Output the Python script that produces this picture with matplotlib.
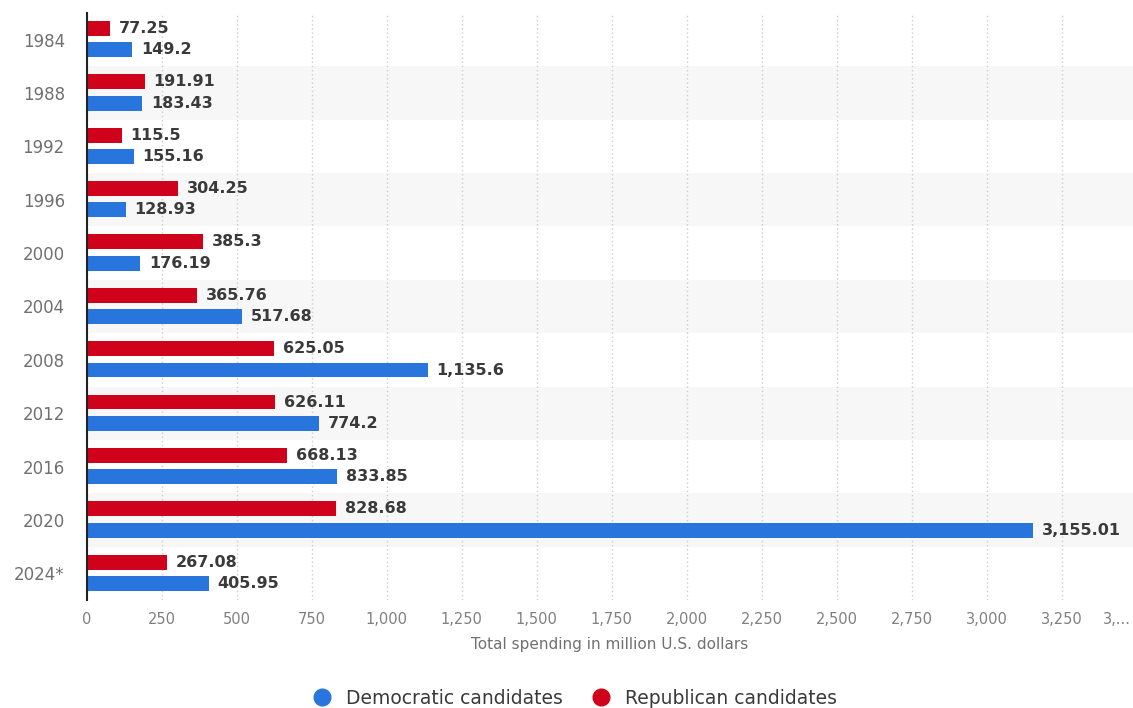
import matplotlib.pyplot as plt
import matplotlib.transforms as mtransforms
from matplotlib.lines import Line2D
import numpy as np

plt.rcParams['font.family'] = ['DejaVu Sans']

# Datos
years = ['1984', '1988', '1992', '1996', '2000', '2004', '2008', '2012', '2016', '2020', '2024*']
republican = [77.25, 191.91, 115.5, 304.25, 385.3, 365.76, 625.05, 626.11, 668.13, 828.68, 267.08]
democratic = [149.2, 183.43, 155.16, 128.93, 176.19, 517.68, 1135.6, 774.2, 833.85, 3155.01, 405.95]
x_ticks = [0, 250, 500, 750, 1000, 1250, 1500, 1750, 2000, 2250, 2500, 2750, 3000, 3250]

RED = '#d0021b'
BLUE = '#2876dd'
TXT = '#3a3a3a'
TICK = '#808080'

fig = plt.figure(figsize=(11.33, 7.08), dpi=100)
W, H = 1133, 708
ax = fig.add_axes([87 / W, 1 - 600 / H, (W - 87) / W, (600 - 13) / H])

y = np.arange(len(years))
h = 0.28

# bandas alternas de fondo
for i in y:
    if i % 2 == 1:
        ax.axhspan(i - 0.5, i + 0.5, color='#f7f7f7', zorder=0, lw=0)

ax.barh(y - 0.21, republican, height=h, color=RED, zorder=3)
ax.barh(y + 0.19, democratic, height=h, color=BLUE, zorder=3)

def fmt(v):
    s = f'{v:,.2f}'.rstrip('0').rstrip('.')
    return s

for i in y:
    ax.text(republican[i] + 30, i - 0.21, fmt(republican[i]), va='center', ha='left',
            fontsize=11.5, color=TXT, fontweight='bold', zorder=4)
    ax.text(democratic[i] + 30, i + 0.19, fmt(democratic[i]), va='center', ha='left',
            fontsize=11.5, color=TXT, fontweight='bold', zorder=4)

ax.set_xlim(0, 3488)
ax.set_ylim(len(years) - 0.5, -0.5)
ax.set_yticks(y)
ax.set_yticklabels(years, fontsize=12, color='#707070')
ax.set_xticks(x_ticks)
ax.set_xticklabels([f'{t:,}' for t in x_ticks], fontsize=10.5, color=TICK)
ax.tick_params(axis='both', length=0)
ax.tick_params(axis='x', pad=9)
ax.tick_params(axis='y', pad=16)

ax.grid(axis='x', linestyle=(0, (1, 2)), color='#cccccc', lw=1, zorder=1)
for s in ['top', 'right', 'bottom']:
    ax.spines[s].set_visible(False)
ax.spines['left'].set_color('#222222')
ax.spines['left'].set_linewidth(1.5)
ax.spines['left'].set_zorder(5)

# etiqueta truncada al final del eje
trans = mtransforms.blended_transform_factory(ax.transData, ax.transAxes)
trans = trans + mtransforms.ScaledTranslation(0, -9 / 72, fig.dpi_scale_trans)
ax.text(3435, 0, '3,...', transform=trans, ha='center', va='top', fontsize=10.5, color=TICK)

ax.set_xlabel('Total spending in million U.S. dollars', fontsize=11, color='#707070', labelpad=7)

handles = [Line2D([], [], marker='o', ls='', color=BLUE, markersize=12),
           Line2D([], [], marker='o', ls='', color=RED, markersize=12)]
fig.legend(handles, ['Democratic candidates', 'Republican candidates'], loc='center',
           bbox_to_anchor=(570 / W, 1 - 698 / H), ncol=2, frameon=False, fontsize=13.5,
           handletextpad=0.3, columnspacing=1.0, labelcolor=TXT)

fig.savefig('out.png', dpi=100)
